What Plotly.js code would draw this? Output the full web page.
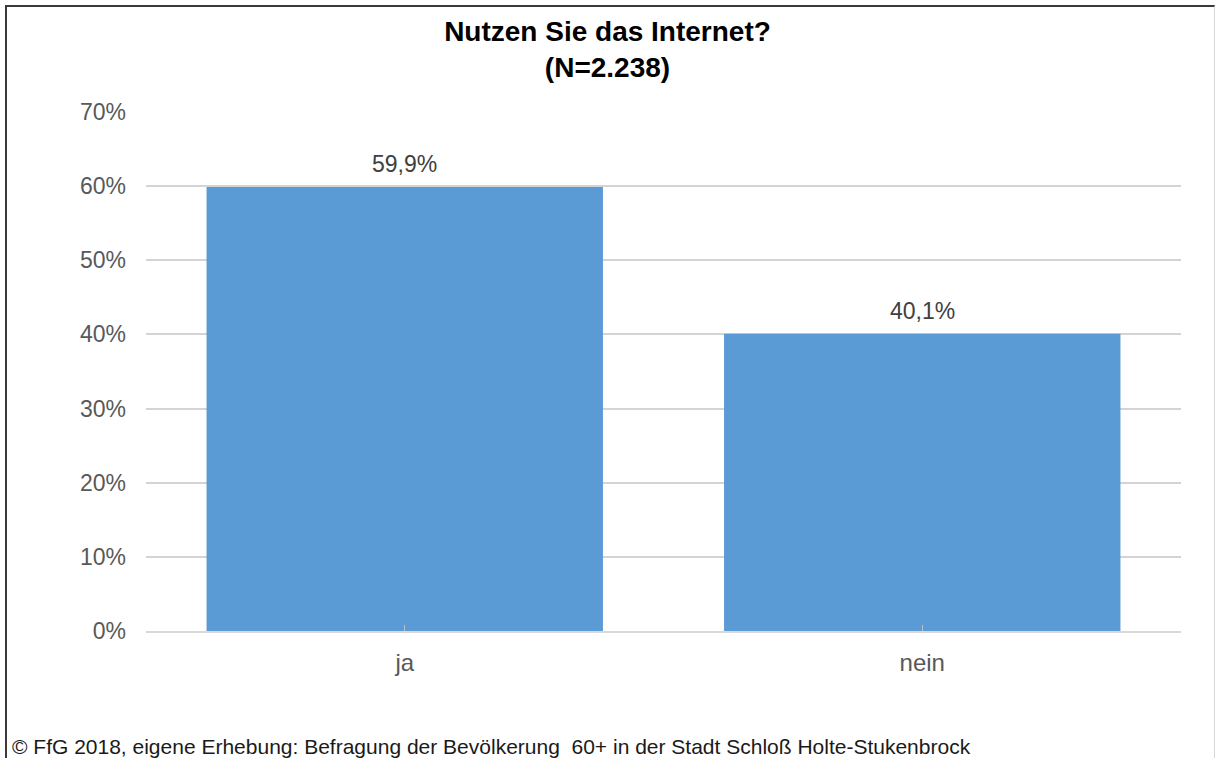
<!DOCTYPE html>
<html>
<head>
<meta charset="utf-8">
<script src="https://cdn.plot.ly/plotly-3.0.1.min.js"></script>
<style>
  body { margin: 0; background: #fff; }
  #wrap { position: relative; width: 1215px; height: 758px; overflow: hidden; }
  #myChart { width: 1215px; height: 758px; }
  #frame {
    position: absolute; left: 5px; top: 5px; width: 1207px; height: 770px;
    border-top: 2px solid #3a3a3a; border-left: 2px solid #3a3a3a; border-right: 1px solid #d8d8d8;
    pointer-events: none;
  }
</style>
</head>
<body>
<div id="wrap">
  <div id="myChart"></div>
  <div id="frame"></div>
</div>
<script>
const categories = ['ja', 'nein'];
const shares = [59.9, 40.1];
const titleText = '<b>Nutzen Sie das Internet?<br>(N=2.238)</b>';
const sourceText = '© FfG 2018, eigene Erhebung: Befragung der Bevölkerung  60+ in der Stadt Schloß Holte-Stukenbrock';

const fmt = v => v.toFixed(1).replace('.', ',') + '%';

const trace = {
	x: categories,
	y: shares,
	type: 'bar',
	marker: { color: '#5b9bd5' },
	hoverinfo: 'skip'
};

const labels = categories.map((c, i) => ({
	x: c,
	y: shares[i],
	text: fmt(shares[i]),
	showarrow: false,
	yanchor: 'bottom',
	yshift: 8,
	font: { size: 23, color: '#404040' }
}));

const layout = {
	width: 1215,
	height: 758,
	margin: { l: 146, r: 34, t: 112, b: 127 },
	paper_bgcolor: '#fff',
	plot_bgcolor: '#fff',
	font: { family: 'Liberation Sans, Arial, sans-serif', color: '#595959' },
	separators: ',.',
	showlegend: false,
	bargap: 0.234,
	title: {
		text: titleText,
		font: { size: 28, color: '#000' },
		xref: 'container', x: 0.5,
		yref: 'container', y: 0.946, yanchor: 'top'
	},
	xaxis: {
		type: 'category',
		showline: true,
		linecolor: '#d9d9d9',
		linewidth: 2,
		ticks: 'inside',
		ticklen: 6,
		tickcolor: '#bfbfbf',
		tickfont: { size: 24, color: '#595959' },
		ticklabelstandoff: 9
	},
	yaxis: {
		range: [0, 70],
		dtick: 10,
		ticksuffix: '%',
		showgrid: true,
		gridcolor: '#d4d4d4',
		gridwidth: 2,
		zeroline: false,
		showline: false,
		tickfont: { size: 23, color: '#595959' },
		ticklabelstandoff: 19
	},
	annotations: labels.concat([{
		text: sourceText,
		xref: 'paper', yref: 'paper',
		x: -0.131, y: -0.222,
		xanchor: 'left', yanchor: 'middle',
		showarrow: false,
		font: { size: 21, color: '#1a1a1a' }
	}])
};

Plotly.newPlot('myChart', [trace], layout, { displayModeBar: false, staticPlot: true });
</script>
</body>
</html>
